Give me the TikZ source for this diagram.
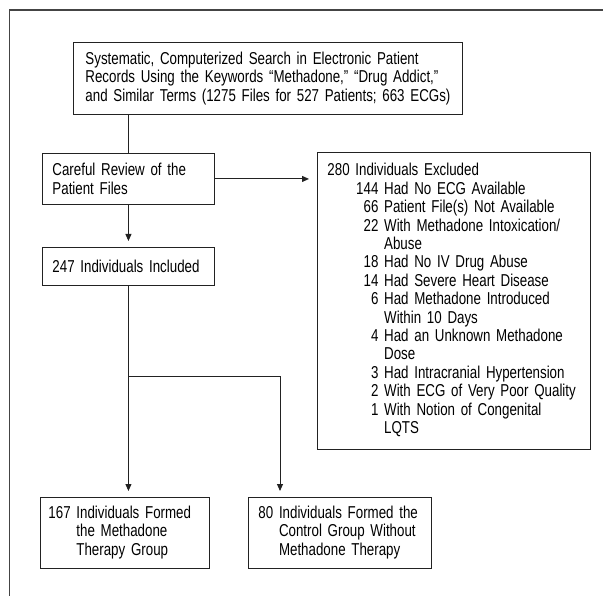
\documentclass[tikz,border=0pt]{standalone}
\usepackage{fontspec}
\setmainfont{Liberation Sans}[FakeStretch=0.775]
\usetikzlibrary{arrows.meta,positioning,calc}
\definecolor{fcInk}{HTML}{222222}
\definecolor{fcFrame}{HTML}{444444}
\newcommand{\xn}[1]{\makebox[51pt][r]{#1}}
\tikzset{
  box/.style     ={draw=fcInk,line width=0.9pt,anchor=north west,align=left,
                   inner xsep=10pt,inner ysep=0pt},
  flow/.style    ={-{Triangle[length=7pt,width=6pt]},fcInk,line width=0.9pt,shorten >=6pt},
  link/.style    ={fcInk,line width=0.9pt},
}

\begin{document}
\begin{tikzpicture}[x=1pt,y=-1pt,font=\fontsize{17.2}{18.4}\selectfont]
\useasboundingbox (0,0) rectangle (603,596);
\draw[fcFrame,line width=1.3pt] (9.5,596) -- (9.5,10) -- (603,10);

\node[box,inner xsep=12pt,text width=365pt,minimum height=72pt] (search) at (73,42)
{Systematic, Computerized Search in Electronic Patient\\
Records Using the Keywords “Methadone,” “Drug Addict,”\\
and Similar Terms (1275 Files for 527 Patients; 663 ECGs)};
\node[box,text width=152pt,minimum height=51pt] (review) at (42,153)
{Careful Review of the\\Patient Files};
\node[box,text width=152pt,minimum height=38pt] (incl) at (42,247)
{247 Individuals Included};
\node[box,text width=253pt,minimum height=297pt] (excl) at (317,152)
{\begin{tabular}{@{}l@{}}
280 Individuals Excluded\\
\xn{144} Had No ECG Available\\
\xn{66} Patient File(s) Not Available\\
\xn{22} With Methadone Intoxication/\\
\xn{} Abuse\\
\xn{18} Had No IV Drug Abuse\\
\xn{14} Had Severe Heart Disease\\
\xn{6} Had Methadone Introduced\\
\xn{} Within 10 Days\\
\xn{4} Had an Unknown Methadone\\
\xn{} Dose\\
\xn{3} Had Intracranial Hypertension\\
\xn{2} With ECG of Very Poor Quality\\
\xn{1} With Notion of Congenital\\
\xn{} LQTS
\end{tabular}};
\node[box,inner xsep=8pt,text width=153pt,minimum height=71pt] (meth) at (40,497)
{\begin{tabular}{@{}l@{\ }l@{}}
167 & Individuals Formed\\
 & the Methadone\\
 & Therapy Group
\end{tabular}};
\node[box,text width=163pt,minimum height=71pt] (ctrl) at (248,497)
{\begin{tabular}{@{}l@{\ }l@{}}
80 & Individuals Formed the\\
 & Control Group Without\\
 & Methadone Therapy
\end{tabular}};

\coordinate (split) at ($(incl.south)+(0,91)$);
\draw[link] (review.north |- search.south) -- (review.north);
\draw[flow] (review) -- (incl);
\draw[flow,shorten >=8pt] (review.east) -- (review.east -| excl.west);
\draw[flow] (incl.south) -- (incl.south |- meth.north);
\draw[flow] (split) -| ([xshift=32pt]ctrl.north west);
\end{tikzpicture}
\end{document}
